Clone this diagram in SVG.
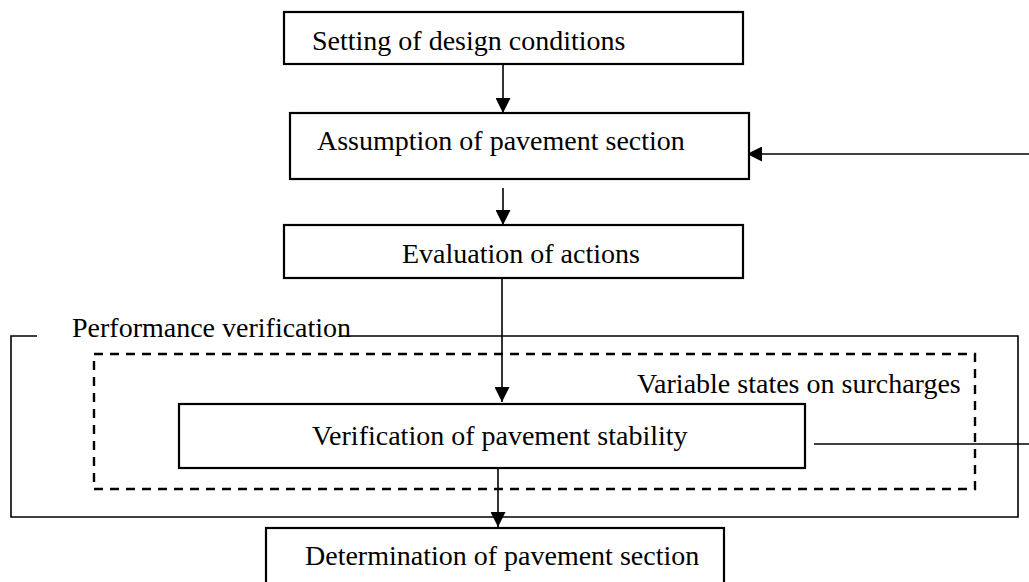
<svg xmlns="http://www.w3.org/2000/svg" width="1029" height="582" viewBox="0 0 1029 582">
  <style>
    .box { fill: #fff; stroke: #000; stroke-width: 2.2; }
    .frame { fill: none; stroke: #000; stroke-width: 1.6; }
    .dash { fill: none; stroke: #000; stroke-width: 2.4; stroke-dasharray: 9 7; }
    .link { fill: none; stroke: #000; stroke-width: 1.6; }
    .lbl { font-family: "Liberation Serif", "Times New Roman", serif; font-size: 28px; fill: #000; }
  </style>
  <defs>
    <marker id="arrow" markerUnits="userSpaceOnUse" markerWidth="15" markerHeight="15" refX="15" refY="7.5" orient="auto">
      <path d="M0,0 L15,7.5 L0,15 z" fill="#000"/>
    </marker>
  </defs>

  <rect width="1029" height="582" fill="#fff"/>

  <!-- performance verification frame (solid) and surcharge region (dashed) -->
  <g id="performance-verification">
    <path class="frame" d="M37,336 H11 V517 H1018 V336 H340"/>
    <text class="lbl" x="72" y="337">Performance verification</text>
  </g>
  <g id="variable-states">
    <rect class="dash" x="94" y="354" width="881" height="135"/>
    <text class="lbl" x="637" y="393">Variable states on surcharges</text>
  </g>

  <!-- connectors -->
  <g id="connectors">
    <line class="link" x1="503" y1="64" x2="503" y2="113" marker-end="url(#arrow)"/>
    <line class="link" x1="1040" y1="154" x2="747" y2="154" marker-end="url(#arrow)"/>
    <line class="link" x1="503" y1="188" x2="503" y2="225" marker-end="url(#arrow)"/>
    <line class="link" x1="502" y1="278" x2="502" y2="402" marker-end="url(#arrow)"/>
    <line class="link" x1="814" y1="444" x2="1040" y2="444"/>
    <line class="link" x1="498" y1="468" x2="498" y2="527" marker-end="url(#arrow)"/>
  </g>

  <!-- process steps -->
  <g id="setting-design-conditions">
    <rect class="box" x="284" y="12" width="459" height="52"/>
    <text class="lbl" x="312" y="50">Setting of design conditions</text>
  </g>
  <g id="assumption-pavement-section">
    <rect class="box" x="290" y="113" width="459" height="66"/>
    <text class="lbl" x="317" y="150">Assumption of pavement section</text>
  </g>
  <g id="evaluation-actions">
    <rect class="box" x="284" y="225" width="459" height="53"/>
    <text class="lbl" x="402" y="263">Evaluation of actions</text>
  </g>
  <g id="verification-stability">
    <rect class="box" x="179" y="404" width="626" height="64"/>
    <text class="lbl" x="312" y="445">Verification of pavement stability</text>
  </g>
  <g id="determination-pavement-section">
    <rect class="box" x="266" y="528" width="458" height="60"/>
    <text class="lbl" x="305" y="565">Determination of pavement section</text>
  </g>
</svg>
